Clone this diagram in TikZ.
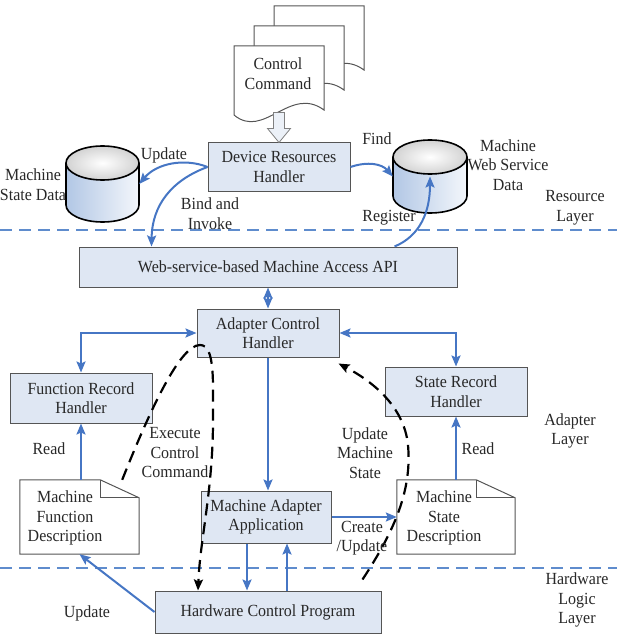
\documentclass[tikz,border=0pt]{standalone}
\usepackage{fontspec}
\setmainfont{Liberation Serif}[FakeStretch=0.94]
\usetikzlibrary{arrows.meta,calc}
\definecolor{cblue}{RGB}{70,118,196}
\definecolor{sepblue}{RGB}{95,140,205}
\definecolor{boxfill}{RGB}{223,231,243}
\definecolor{boxline}{RGB}{85,85,85}
\definecolor{cylblue}{RGB}{178,199,229}
\definecolor{txtgray}{RGB}{40,40,40}
\tikzset{
  txt/.style={font=\fontsize{17}{19.5}\selectfont, align=center, inner sep=0pt, text=txtgray},
  procbox/.style={txt, draw=boxline, fill=boxfill, line width=1pt},
  blueline/.style={draw=cblue, line width=2pt, -{Stealth[length=11pt,width=9pt,inset=2pt]}},
  bluetwo/.style={draw=cblue, line width=2pt, {Stealth[length=11pt,width=9pt,inset=2pt]}-{Stealth[length=11pt,width=9pt,inset=2pt]}},
  blackdash/.style={draw=black, line width=2.2pt, dash pattern=on 12pt off 7pt, -{Stealth[length=11pt,width=9pt,inset=2pt]}},
  layersep/.style={draw=sepblue, line width=1.5pt, dash pattern=on 12pt off 7pt},
  docline/.style={draw=boxline, line width=1pt, fill=white},
  cylline/.style={draw=black, line width=1.6pt},
}
\begin{document}
\begin{tikzpicture}[x=1pt,y=-1pt]
\useasboundingbox (0,0) rectangle (617,639);

% layer separators
\draw[layersep] (0,230) -- (617,230);
\draw[layersep] (0,568) -- (617,568);

% control command document stack
\foreach \s in {2,1,0} {
  \draw[docline, shift={({20*\s},{-20*\s})}]
    (234,46) -- (324,46) -- (324,110) .. controls (290,85) and (264,140) .. (234,115) -- cycle;
}
\node[txt] (cc) at (278,73.5) {Control\\Command};

% boxes
\node[procbox, minimum width=142, minimum height=48] (drh) at (279,167) {Device Resources\\Handler};
\node[procbox, minimum width=378, minimum height=40] (api) at (268,267) {Web-service-based Machine Access API};
\node[procbox, minimum width=142, minimum height=48] (ach) at (268,333) {Adapter Control\\Handler};
\node[procbox, minimum width=142, minimum height=50] (frh) at (81,398) {Function Record\\Handler};
\node[procbox, minimum width=142, minimum height=49] (srh) at (456,391.5) {State Record\\Handler};
\node[procbox, minimum width=130, minimum height=52] (maa) at (266,517) {Machine Adapter\\Application};
\node[procbox, minimum width=226, minimum height=42] (hcp) at (268,612) {Hardware Control Program};

% hollow arrow from control command to handler
\begin{scope}[shift={(drh.north)}]
  \draw[draw=gray, fill=boxfill!60!white, line width=0.8pt]
    (-5.5,-30) -- (5.5,-30) -- (5.5,-14) -- (11.5,-14) -- (0,0) -- (-11.5,-14) -- (-5.5,-14) -- cycle;
\end{scope}

% cylinders
\node[minimum width=73, minimum height=76, inner sep=0pt] (msdb) at (102.5,184) {};
\shade[left color=cylblue, right color=white!85!cylblue]
  (66,163) -- (66,205) arc[start angle=180,end angle=360,x radius=36.5pt,y radius=17pt] -- (139,163) -- cycle;
\draw[cylline] (66,163) -- (66,205) arc[start angle=180,end angle=360,x radius=36.5pt,y radius=17pt] -- (139,163);
\shade[inner color=white, outer color=gray!35] (102.5,163) ellipse[x radius=36.5pt, y radius=17pt];
\draw[cylline] (102.5,163) ellipse[x radius=36.5pt, y radius=17pt];

\node[minimum width=74, minimum height=73, inner sep=0pt] (wsdb) at (430,176.5) {};
\shade[left color=cylblue, right color=white!85!cylblue]
  (393,157) -- (393,196) arc[start angle=180,end angle=360,x radius=37pt,y radius=17pt] -- (467,157) -- cycle;
\draw[cylline] (393,157) -- (393,196) arc[start angle=180,end angle=360,x radius=37pt,y radius=17pt] -- (467,157);
\shade[inner color=white, outer color=gray!35] (430,157) ellipse[x radius=37pt, y radius=17pt];
\draw[cylline] (430,157) ellipse[x radius=37pt, y radius=17pt];

% document shapes
\node[minimum width=119, minimum height=74, inner sep=0pt] (mfd) at (79.5,517) {};
\draw[docline] (mfd.north west) -- ($(mfd.north east)+(-39,0)$) -- ($(mfd.north east)+(0,18)$) -- (mfd.south east) -- (mfd.south west) -- cycle;
\draw[docline, fill=none] ($(mfd.north east)+(-39,0)$) -- ($(mfd.north east)+(-39,18)$) -- ($(mfd.north east)+(0,18)$);
\node[txt] (mfdt) at (65,518) {Machine\\Function\\Description};

\node[minimum width=118, minimum height=74, inner sep=0pt] (msd) at (456,517) {};
\draw[docline] (msd.north west) -- ($(msd.north east)+(-39,0)$) -- ($(msd.north east)+(0,18)$) -- (msd.south east) -- (msd.south west) -- cycle;
\draw[docline, fill=none] ($(msd.north east)+(-39,0)$) -- ($(msd.north east)+(-39,18)$) -- ($(msd.north east)+(0,18)$);
\node[txt] (msdt) at (444,518) {Machine\\State\\Description};

% blue connectors
\draw[blueline] (drh.west) .. controls (185,158) and (157,163) .. (msdb.east);
\draw[blueline] (drh.west) .. controls (172,180) and (152,205) .. ($(api.north west)+(73,0)$);
\draw[blueline] (drh.east) .. controls (368,161) and (382,164) .. (wsdb.west);
\draw[blueline] ($(api.north west)+(316,0)$) .. controls (420,236) and (430,212) .. (wsdb.center);
\draw[bluetwo] (api.south) -- (ach.north);
\draw[bluetwo] (ach.west) -- (ach.west -| frh.north) -- (frh.north);
\draw[bluetwo] (ach.east) -- (ach.east -| srh.north) -- (srh.north);
\draw[blueline] (ach.south) -- (ach.south |- maa.north);
\draw[blueline] (frh.south |- mfd.north) -- (frh.south);
\draw[blueline] (srh.south |- msd.north) -- (srh.south);
\draw[blueline] (maa.east) -- (msd.west);
\draw[blueline] ($(maa.south)+(-19,0)$) -- ($(hcp.north)+(-21,0)$);
\draw[blueline] ($(hcp.north)+(19,0)$) -- ($(maa.south)+(21,0)$);
\draw[blueline] (hcp.west) -- (mfd.south);

% black dashed flows
\coordinate (exs) at ($(mfd.north east)+(-17,0)$);
\coordinate (exe) at ($(hcp.north)+(-70,0)$);
\draw[blackdash] (exs) .. controls (150,410) and (180,345) .. (200,345)
  .. controls (215,345) and (213,380) .. (213,420)
  .. controls (213,490) and (200,540) .. (exe);
\coordinate (ums) at ($(hcp.north east)+(-19,-11)$);
\coordinate (ume) at ($(ach.south east)+(-1,6)$);
\draw[blackdash] (ums) .. controls (395,530) and (412,490) .. (408,445)
  .. controls (404,405) and (370,380) .. (ume);

% labels
\node[txt] (lmsd) at (33,184.5) {Machine\\State Data};
\node[txt] (lwsd) at (508,165) {Machine\\Web Service\\Data};
\node[txt] (lfind) at (377,139) {Find};
\node[txt] (lupd) at (164,155) {Update};
\node[txt] (lbind) at (210,213.5) {Bind and\\Invoke};
\node[txt] (lreg) at (389,218) {Register};
\node[txt] (lres) at (575,208) {Resource\\Layer};
\node[txt] (lread1) at (49,449) {Read};
\node[txt] (lread2) at (478,449) {Read};
\node[txt] (lexec) at (175,453) {Execute\\Control\\Command};
\node[txt] (lums) at (365,453) {Update\\Machine\\State};
\node[txt] (ladl) at (570,431) {Adapter\\Layer};
\node[txt] (lcre) at (362,538) {Create\\/Update};
\node[txt] (lupd2) at (87,613) {Update};
\node[txt] (lhwl) at (577,600) {Hardware\\Logic\\Layer};
\end{tikzpicture}
\end{document}
